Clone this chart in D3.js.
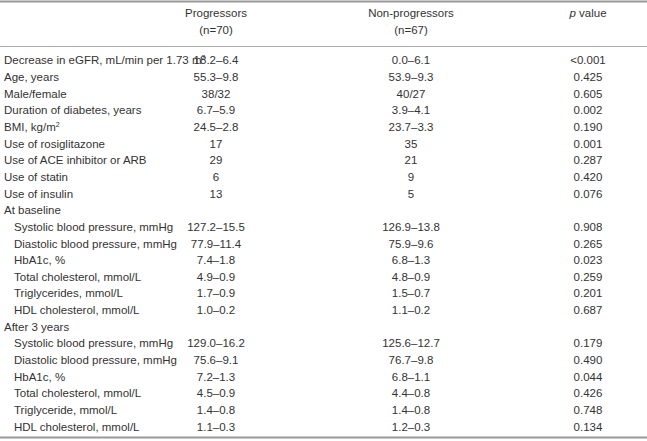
<!DOCTYPE html>
<html><head><meta charset="utf-8">
<script src="https://cdn.jsdelivr.net/npm/d3@7"></script>
<style>body{margin:0;background:#fff}</style></head><body>
<script>
const headers = [["Progressors","(n=70)"],["Non-progressors","(n=67)"],["p value",""]];
const labels = ["Decrease in eGFR, mL/min per 1.73 m²","Age, years","Male/female","Duration of diabetes, years","BMI, kg/m²","Use of rosiglitazone","Use of ACE inhibitor or ARB","Use of statin","Use of insulin","At baseline","Systolic blood pressure, mmHg","Diastolic blood pressure, mmHg","HbA1c, %","Total cholesterol, mmol/L","Triglycerides, mmol/L","HDL cholesterol, mmol/L","After 3 years","Systolic blood pressure, mmHg","Diastolic blood pressure, mmHg","HbA1c, %","Total cholesterol, mmol/L","Triglyceride, mmol/L","HDL cholesterol, mmol/L"];
const indented = [0,0,0,0,0,0,0,0,0,0,1,1,1,1,1,1,0,1,1,1,1,1,1];
const progressors = ["18.2–6.4","55.3–9.8","38/32","6.7–5.9","24.5–2.8","17","29","6","13","","127.2–15.5","77.9–11.4","7.4–1.8","4.9–0.9","1.7–0.9","1.0–0.2","","129.0–16.2","75.6–9.1","7.2–1.3","4.5–0.9","1.4–0.8","1.1–0.3"];
const nonProgressors = ["0.0–6.1","53.9–9.3","40/27","3.9–4.1","23.7–3.3","35","21","9","5","","126.9–13.8","75.9–9.6","6.8–1.3","4.8–0.9","1.5–0.7","1.1–0.2","","125.6–12.7","76.7–9.8","6.8–1.1","4.4–0.8","1.4–0.8","1.2–0.3"];
const pValues = ["<0.001","0.425","0.605","0.002","0.190","0.001","0.287","0.420","0.076","","0.908","0.265","0.023","0.259","0.201","0.687","","0.179","0.490","0.044","0.426","0.748","0.134"];

const W=647,H=441;
const svg=d3.select("body").append("svg").attr("width",W).attr("height",H)
  .style("font-family","'Liberation Sans Narrow', 'Arial Narrow', 'Liberation Sans', Arial, sans-serif").style("font-size","11.5px");
const y=d3.scaleBand().domain(d3.range(labels.length)).range([52,435]);
const colX=[216,411,588];
const fg="#333";
svg.append("line").attr("x1",0).attr("x2",W).attr("y1",1.5).attr("y2",1.5).attr("stroke","#999").attr("stroke-width",2);
svg.append("line").attr("x1",0).attr("x2",W).attr("y1",46.5).attr("y2",46.5).attr("stroke","#aaa").attr("stroke-width",1);
svg.append("line").attr("x1",0).attr("x2",W).attr("y1",437.5).attr("y2",437.5).attr("stroke","#999").attr("stroke-width",2);
headers.forEach((h,i)=>{
  const t=svg.append("text").attr("x",colX[i]).attr("y",17).attr("text-anchor","middle").attr("fill",fg);
  if(i===2){t.append("tspan").attr("font-style","italic").text("p");t.append("tspan").text(" value");}
  else t.text(h[0]);
  if(h[1]) svg.append("text").attr("x",colX[i]).attr("y",34).attr("text-anchor","middle").attr("fill",fg).text(h[1]);
});
const rows=svg.selectAll("g.r").data(labels).join("g").attr("transform",(d,i)=>`translate(0,${y(i)+y.bandwidth()/2+4})`);
rows.append("text").attr("x",(d,i)=>indented[i]?14:4).attr("fill",fg).each(function(d){
  const s=d3.select(this);
  const m=d.match(/^(.*m)²$/);
  if(m){s.append("tspan").text(m[1]);s.append("tspan").attr("font-size","7px").attr("dy",-4).text("2");}
  else s.text(d);
});
[progressors,nonProgressors,pValues].forEach((col,c)=>{
  rows.append("text").attr("x",colX[c]).attr("text-anchor","middle").attr("fill",fg).text((d,i)=>col[i]);
});
</script></body></html>
